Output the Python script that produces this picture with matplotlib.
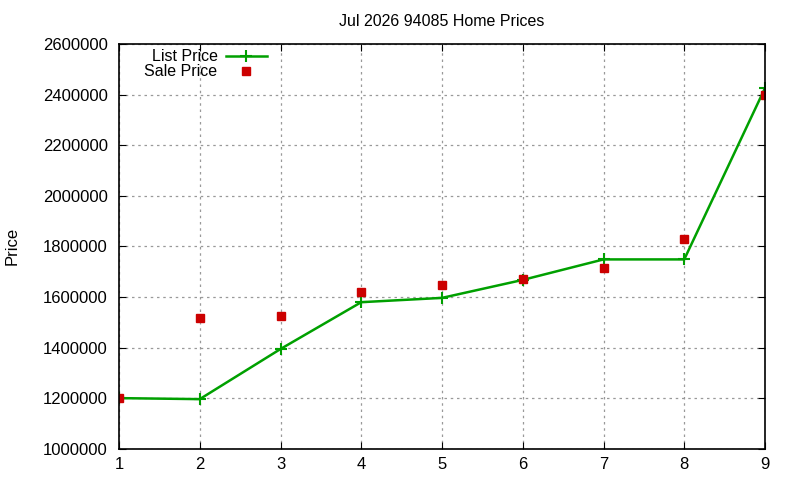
import matplotlib
matplotlib.use("Agg")
import matplotlib.pyplot as plt

x = [1, 2, 3, 4, 5, 6, 7, 8, 9]
list_price = [1201000, 1197000, 1395000, 1580000, 1597000, 1668000, 1749000, 1749000, 2426000]
sale_price = [1200000, 1519000, 1527000, 1621000, 1649000, 1670000, 1716000, 1831000, 2400000]
y_ticks = [1000000, 1200000, 1400000, 1600000, 1800000, 2000000, 2200000, 2400000, 2600000]

plt.rcParams['font.family'] = ['Liberation Sans', 'DejaVu Sans']
fig = plt.figure(figsize=(8, 4.8), dpi=100)
ax = fig.add_axes([119/800, 31/480, 646/800, 405/480])

ax.plot(x, list_price, color='#00a000', lw=1.8, marker='+', ms=9, mew=1.5, label='List Price')
ax.plot(x, sale_price, ls='none', color='#cc0000', marker='s', ms=6, label='Sale Price')

ax.set_xlim(1, 9)
ax.set_ylim(1000000, 2600000)
ax.set_xticks(x)
ax.set_yticks(y_ticks)
ax.set_yticklabels([str(v) for v in y_ticks])
ax.tick_params(direction='in', top=True, right=True, labelsize=12, length=5)
ax.tick_params(axis='y', pad=8)
ax.tick_params(axis='x', pad=6)
ax.grid(True, color='#999999', ls=(0, (2, 3)), lw=0.9)
for s in ax.spines.values():
    s.set_linewidth(1.2)

ax.set_title('Jul 2026 94085 Home Prices', fontsize=11.5, pad=13)
fig.text(12/800, 1 - 246/480, 'Price', rotation=90, fontsize=12, ha='center', va='center')

ax.legend(loc='upper left', bbox_to_anchor=(0.022, 1.015), frameon=False, markerfirst=False,
          fontsize=11.5, handlelength=2.6, labelspacing=0.0, borderaxespad=0.3, handletextpad=0.5)

fig.savefig('out.png', dpi=100)
